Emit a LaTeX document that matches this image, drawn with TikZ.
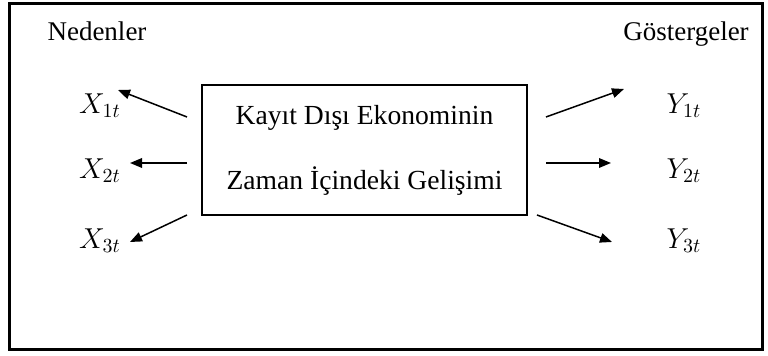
\documentclass[tikz,border=0pt]{standalone}
\usepackage{fontspec}
\setmainfont{Liberation Serif}
\usetikzlibrary{arrows.meta}
\begin{document}
\begin{tikzpicture}[x=0.5pt,y=-0.5pt,
  frame/.style={line width=1.5pt},
  mainbox/.style={draw,line width=0.7pt,minimum width=162.5pt,minimum height=65pt,align=center,inner sep=0pt,font=\fontsize{13.8}{32.5}\selectfont},
  head/.style={anchor=base,font=\fontsize{13.5}{16}\selectfont},
  var/.style={font=\fontsize{14.5}{17}\selectfont},
  arr/.style={line width=0.75pt,-{Triangle[length=6pt,width=4.8pt]}}]
\useasboundingbox (0,0) rectangle (768,356);
\draw[frame] (9,4) rectangle (762,350);
\node[head] (ned) at (97,41) {Nedenler};
\node[head] (gos) at (686,41) {Göstergeler};
\node[mainbox] (box) at (364.5,150) {Kayıt Dışı Ekonominin\\Zaman İçindeki Gelişimi};
\node[var] (x1) at (100,106) {$X_{1t}$};
\node[var] (x2) at (100,171) {$X_{2t}$};
\node[var] (x3) at (100,241) {$X_{3t}$};
\node[var] (y1) at (684,106) {$Y_{1t}$};
\node[var] (y2) at (684,171) {$Y_{2t}$};
\node[var] (y3) at (684,241) {$Y_{3t}$};
\coordinate (ls1) at (187,117); \coordinate (lt1) at (118,90);
\coordinate (ls2) at (187,163); \coordinate (lt2) at (130,163);
\coordinate (ls3) at (187,215); \coordinate (lt3) at (130,242);
\coordinate (rs1) at (546,117); \coordinate (rt1) at (624,89);
\coordinate (rs2) at (546,163); \coordinate (rt2) at (611,163);
\coordinate (rs3) at (537,215); \coordinate (rt3) at (612,242);
\draw[arr] (ls1) -- (lt1);
\draw[arr] (ls2) -- (lt2);
\draw[arr] (ls3) -- (lt3);
\draw[arr] (rs1) -- (rt1);
\draw[arr] (rs2) -- (rt2);
\draw[arr] (rs3) -- (rt3);
\end{tikzpicture}
\end{document}
